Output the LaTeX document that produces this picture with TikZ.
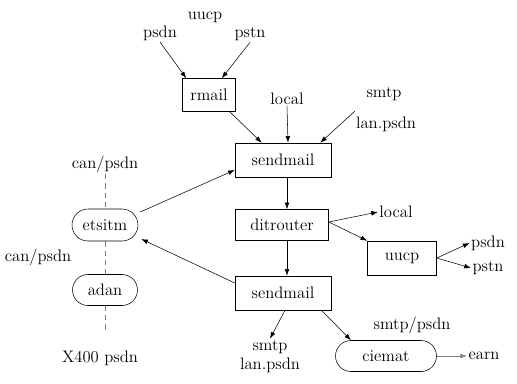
\documentclass[tikz,border=0pt]{standalone}
\usetikzlibrary{arrows.meta,calc,shapes.misc}
\begin{document}
\begin{tikzpicture}[x=0.75pt,y=-0.75pt,
  font=\fontsize{12.5}{14}\selectfont,
  prog/.style={draw,thin,rectangle,inner sep=0pt},
  host/.style={draw,thin,rounded rectangle,inner sep=0pt},
  lbl/.style={inner sep=1pt},
  flow/.style={thin,-{Latex[length=5pt,width=3.5pt]}},
  link/.style={thin,gray,dash pattern=on 4pt off 3pt}]
\useasboundingbox (0,0) rectangle (517,383);

% mail programs
\node[prog,minimum width=53*0.75pt,minimum height=33*0.75pt] (rmail) at (209,95) {rmail};
\node[prog,minimum width=96*0.75pt,minimum height=34*0.75pt] (send1) at (283,160) {sendmail};
\node[prog,minimum width=93*0.75pt,minimum height=31*0.75pt] (dit) at (282,225) {ditrouter};
\node[prog,minimum width=69*0.75pt,minimum height=34*0.75pt] (uucpb) at (402,258) {uucp};
\node[prog,minimum width=96*0.75pt,minimum height=34*0.75pt] (send2) at (283,293) {sendmail};

% hosts
\node[host,minimum width=66*0.75pt,minimum height=32*0.75pt] (etsitm) at (105,225) {etsitm};
\node[host,minimum width=65*0.75pt,minimum height=31*0.75pt] (adan) at (105,290) {adan};
\node[host,minimum width=101*0.75pt,minimum height=31*0.75pt] (ciemat) at (386,356) {ciemat};

% network labels
\node[lbl] (inpsdn) at (160,33) {psdn};
\node[lbl] (inuucp) at (205,17) {uucp};
\node[lbl] (inpstn) at (250,34) {pstn};
\node[lbl] (inlocal) at (287,99) {local};
\node[lbl] (insmtp) at (384,94) {smtp};
\node[lbl] (inlan) at (386,124) {lan.psdn};
\node[lbl] (outlocal) at (396,212) {local};
\node[lbl] (outpsdn) at (488,243) {psdn};
\node[lbl] (outpstn) at (488,268) {pstn};
\node[lbl] (outsmtp) at (270,347) {smtp};
\node[lbl] (outlan) at (270,365) {lan.psdn};
\node[lbl] (smtppsdn) at (412,325) {smtp/psdn};
\node[lbl] (earn) at (484,356) {earn};
\node[lbl] (cantop) at (105,164) {can/psdn};
\node[lbl] (canleft) at (38,257) {can/psdn};
\node[lbl] (xfour) at (100,358) {X400 psdn};

\coordinate (smtpin) at (355,111);
\coordinate (adanend) at (105,333);

% incoming mail
\draw[flow] (inpsdn.south) -- ($(rmail.north west)+(4,0)$);
\draw[flow] (inpstn.south) -- ($(rmail.north east)+(-14,0)$);
\draw[flow] ($(rmail.south east)+(-6,0)$) -- ($(send1.north west)+(27,0)$);
\draw[flow] (inlocal.south) -- ($(send1.north)+(5,0)$);
\draw[flow] (smtpin) -- ($(send1.north east)+(-11,0)$);

% main chain
\draw[flow] ($(send1.south)+(4,0)$) -- ($(dit.north)+(5,0)$);
\draw[flow] ($(dit.south)+(5,0)$) -- ($(send2.north)+(4,0)$);

% ditrouter outputs
\draw[flow] ($(dit.east)+(0,-3)$) -- (outlocal.west);
\draw[flow] ($(dit.east)+(0,-3)$) -- (uucpb.north west);
\draw[flow] (uucpb.east) -- (outpsdn.west);
\draw[flow] (uucpb.east) -- (outpstn.west);

% sendmail outputs
\draw[flow] ($(send2.south)+(2,0)$) -- (outsmtp.north);
\draw[flow] ($(send2.south east)+(-10,0)$) -- (ciemat.north west);
\draw[flow,gray] (ciemat.east) -- (earn.west);

% links with etsitm
\draw[flow] ($(etsitm.east)+(2,-13)$) -- ($(send1.west)+(0,10)$);
\draw[flow] ($(send2.west)+(0,-10)$) -- ($(etsitm.east)+(3,14)$);
\draw[link] (cantop.south) -- (etsitm.north);
\draw[link] (etsitm.south) -- (adan.north);
\draw[link] (adan.south) -- (adanend);
\end{tikzpicture}
\end{document}
